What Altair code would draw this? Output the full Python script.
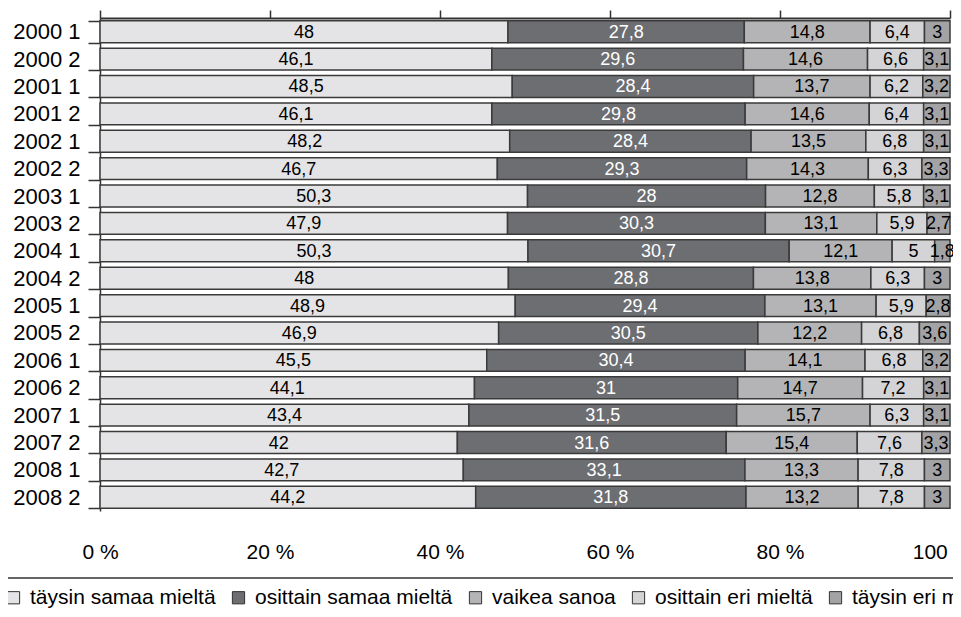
import altair as alt
import pandas as pd

periods = ["2000 1", "2000 2", "2001 1", "2001 2", "2002 1", "2002 2", "2003 1", "2003 2",
           "2004 1", "2004 2", "2005 1", "2005 2", "2006 1", "2006 2", "2007 1", "2007 2",
           "2008 1", "2008 2"]
categories = ["täysin samaa mieltä", "osittain samaa mieltä", "vaikea sanoa",
              "osittain eri mieltä", "täysin eri mieltä"]

taysin_samaa = [48, 46.1, 48.5, 46.1, 48.2, 46.7, 50.3, 47.9, 50.3, 48, 48.9, 46.9, 45.5, 44.1, 43.4, 42, 42.7, 44.2]
osittain_samaa = [27.8, 29.6, 28.4, 29.8, 28.4, 29.3, 28, 30.3, 30.7, 28.8, 29.4, 30.5, 30.4, 31, 31.5, 31.6, 33.1, 31.8]
vaikea = [14.8, 14.6, 13.7, 14.6, 13.5, 14.3, 12.8, 13.1, 12.1, 13.8, 13.1, 12.2, 14.1, 14.7, 15.7, 15.4, 13.3, 13.2]
osittain_eri = [6.4, 6.6, 6.2, 6.4, 6.8, 6.3, 5.8, 5.9, 5, 6.3, 5.9, 6.8, 6.8, 7.2, 6.3, 7.6, 7.8, 7.8]
taysin_eri = [3, 3.1, 3.2, 3.1, 3.1, 3.3, 3.1, 2.7, 1.8, 3, 2.8, 3.6, 3.2, 3.1, 3.1, 3.3, 3, 3]

x_ticks = [0, 0.2, 0.4, 0.6, 0.8, 1.0]
colors = ["#e4e4e6", "#6d6e72", "#b4b4b6", "#d4d4d6", "#a3a3a5"]

series = [taysin_samaa, osittain_samaa, vaikea, osittain_eri, taysin_eri]
rows = []
for i, p in enumerate(periods):
    for k, (cat, vals) in enumerate(zip(categories, series)):
        v = vals[i]
        lab = (f"{v:g}").replace(".", ",")
        rows.append({"period": p, "category": cat, "order": k, "value": v, "label": lab})
df = pd.DataFrame(rows)

y_enc = alt.Y(
    "period:N", sort=periods,
    scale=alt.Scale(paddingInner=0.2, paddingOuter=0.1),
    axis=alt.Axis(title=None, labelFontSize=22, tickBand="extent", tickSize=12,
                  tickColor="#333", domainColor="#333", tickWidth=1.5, domainWidth=1.5,
                  labelPadding=8, labelColor="black"),
)

bars = alt.Chart(df).mark_bar(stroke="#3a3a3a", strokeWidth=1.5).encode(
    x=alt.X("value:Q", stack="normalize",
            scale=alt.Scale(domain=[0, 1], nice=False),
            axis=alt.Axis(orient="bottom", values=x_ticks,
                          labelExpr="format(datum.value*100, 'd') + ' %'",
                          labelOffset=alt.expr("datum.value == 1 ? -8 : 0"),
                          domain=False, ticks=False, grid=False, labelPadding=30,
                          labelFlush=False, title=None, labelFontSize=21,
                          labelColor="black")),
    y=y_enc,
    color=alt.Color("category:N", sort=categories,
                    scale=alt.Scale(domain=categories, range=colors),
                    legend=alt.Legend(orient="none", legendX=-97, legendY=569,
                                      direction="horizontal", title=None,
                                      symbolType="square", symbolSize=150,
                                      symbolStrokeColor="#333", symbolStrokeWidth=1,
                                      labelFontSize=21, labelOffset=6, columnPadding=12,
                                      padding=0, labelLimit=400, labelColor="black")),
    order=alt.Order("order:Q"),
)

texts = alt.Chart(df).transform_stack(
    stack="value", groupby=["period"], sort=[alt.SortField("order")],
    as_=["x0", "x1"], offset="normalize"
).transform_calculate(
    mid="(datum.x0 + datum.x1) / 2"
).mark_text(fontSize=18, align="center", baseline="middle", dy=1).encode(
    x=alt.X("mid:Q", scale=alt.Scale(domain=[0, 1], nice=False),
            axis=alt.Axis(orient="top", values=x_ticks, labels=False, domain=True,
                          ticks=True, tickSize=8, tickWidth=1.5, domainWidth=2,
                          domainColor="#333", tickColor="#333", grid=False, title=None)),
    y=alt.Y("period:N", sort=periods),
    text="label:N",
    color=alt.condition("datum.category == 'osittain samaa mieltä'",
                        alt.value("white"), alt.value("black")),
)

sep = alt.Chart(pd.DataFrame({"a": [0]})).mark_rule(color="#333", strokeWidth=1.5).encode(
    x=alt.value(-100), x2=alt.value(861), y=alt.value(560)
)

chart = alt.layer(bars, texts, sep).properties(
    width=850, height=493,
    autosize=alt.AutoSizeParams(type="none"),
    padding={"left": 92, "top": 10, "right": 3, "bottom": 98},
).configure(font="Liberation Sans").configure_view(stroke=None)

chart.save("out.html", embed_options={"renderer": "svg", "actions": False})
